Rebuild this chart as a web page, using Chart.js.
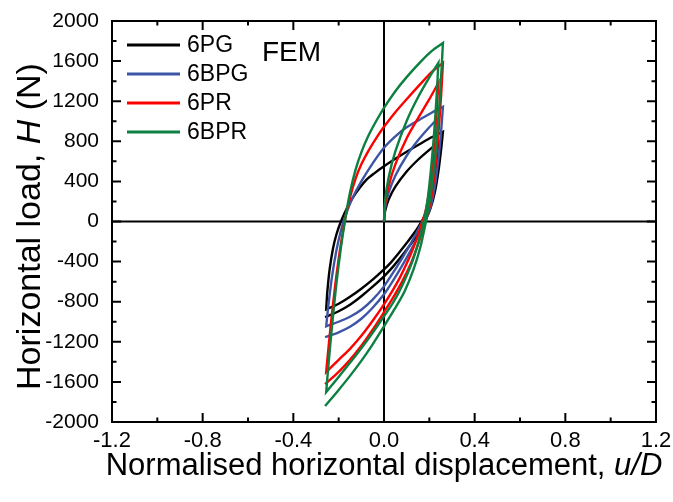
<!DOCTYPE html>
<html><head><meta charset="utf-8">
<script src="https://cdn.jsdelivr.net/npm/chart.js@4/dist/chart.umd.min.js"></script>
<style>html,body{margin:0;padding:0;background:#fff;}#wrap{width:673px;height:502px;}</style>
</head><body><div id="wrap"><canvas id="c" width="673" height="502"></canvas></div>
<script>
// ---- data ----
const seriesNames = ['6PG', '6BPG', '6PR', '6BPR'];
const xTickStep = 0.4;   // labelled x ticks: -1.2 ... 1.2
const yTickStep = 400;   // labelled y ticks: -2000 ... 2000

// each series: virgin loading, unloading 1, reloading, unloading 2 (u/D, H in N)
const u_6PG = [0,0.005,0.02,0.05,0.1,0.15,0.2,0.24,
  0.24,0.232,0.22,0.205,0.185,0.155,0.13,0.1,0.06,0.03,0,-0.05,-0.1,-0.15,-0.2,-0.255,
  -0.255,-0.25,-0.24,-0.225,-0.21,-0.19,-0.16,-0.125,-0.08,-0.04,0,0.05,0.1,0.16,0.21,0.26,
  0.26,0.252,0.24,0.225,0.205,0.18,0.15,0.12,0.08,0.04,0,-0.05,-0.1,-0.15,-0.2,-0.26];
const h_6PG = [0,105,216,347,498,616,715,786,
  786,610,420,230,80,-40,-125,-215,-330,-410,-478,-580,-670,-750,-820,-876,
  -876,-700,-480,-270,-130,0,150,280,410,485,550,625,695,775,840,895,
  895,720,500,300,130,0,-120,-220,-340,-450,-547,-650,-745,-830,-895,-955];

const u_6BPG = [0,0.005,0.02,0.05,0.1,0.15,0.2,0.24,
  0.24,0.232,0.22,0.205,0.185,0.16,0.13,0.1,0.06,0.03,0,-0.05,-0.1,-0.15,-0.2,-0.255,
  -0.255,-0.245,-0.23,-0.21,-0.19,-0.17,-0.14,-0.1,-0.05,0,0.05,0.1,0.16,0.21,0.26,
  0.26,0.252,0.24,0.225,0.205,0.18,0.15,0.12,0.08,0.04,0,-0.05,-0.1,-0.15,-0.2,-0.26];
const h_6BPG = [0,138,285,457,656,810,940,1035,
  1035,800,540,290,90,-40,-170,-290,-440,-545,-647,-780,-880,-950,-1000,-1045,
  -1045,-830,-560,-290,-90,60,230,400,580,736,850,940,1020,1085,1144,
  1144,900,620,360,140,-10,-150,-280,-440,-590,-726,-860,-970,-1050,-1105,-1154];

const u_6PR = [0,0.005,0.02,0.05,0.1,0.15,0.2,0.24,
  0.24,0.232,0.22,0.205,0.185,0.165,0.14,0.11,0.07,0.035,0,-0.05,-0.1,-0.15,-0.2,-0.255,
  -0.255,-0.245,-0.23,-0.21,-0.19,-0.17,-0.15,-0.125,-0.1,-0.07,-0.035,0,0.05,0.1,0.16,0.21,0.26,
  0.26,0.252,0.24,0.225,0.205,0.18,0.15,0.12,0.08,0.04,0,-0.05,-0.1,-0.15,-0.2,-0.26];
const h_6PR = [0,170,350,570,830,1030,1220,1383,
  1383,1080,730,390,120,-30,-200,-370,-560,-700,-826,-990,-1140,-1270,-1380,-1502,
  -1502,-1260,-930,-540,-220,40,240,430,570,700,830,945,1090,1220,1370,1490,1582,
  1582,1260,880,520,190,-20,-230,-410,-600,-760,-905,-1080,-1240,-1380,-1500,-1622];

const u_6BPR = [0,0.005,0.02,0.05,0.1,0.15,0.2,0.24,
  0.24,0.232,0.22,0.205,0.19,0.175,0.15,0.12,0.08,0.04,0,-0.05,-0.1,-0.15,-0.2,-0.255,
  -0.255,-0.245,-0.23,-0.21,-0.19,-0.17,-0.15,-0.125,-0.1,-0.07,-0.035,0,0.05,0.1,0.16,0.21,0.26,
  0.26,0.252,0.24,0.225,0.205,0.185,0.16,0.13,0.09,0.045,0,-0.05,-0.1,-0.15,-0.2,-0.26];
const h_6BPR = [0,211,435,699,1003,1239,1438,1582,
  1582,1250,850,470,180,0,-220,-430,-640,-810,-945,-1110,-1265,-1410,-1550,-1701,
  -1701,-1430,-1060,-620,-260,40,290,520,690,850,1000,1134,1300,1440,1590,1700,1781,
  1781,1440,1020,620,250,0,-260,-480,-700,-880,-1045,-1225,-1390,-1540,-1680,-1841];

// ---- styling ----
const colors = ['#000000', '#3d55a5', '#ff0000', '#0b8040'];
const FONT = '"Liberation Sans", Arial, sans-serif';

const us = [u_6PG, u_6BPG, u_6PR, u_6BPR];
const hs = [h_6PG, h_6BPG, h_6PR, h_6BPR];

const datasets = seriesNames.map((name, i) => ({
  label: name,
  data: us[i].map((u, k) => ({x: u, y: hs[i][k]})),
  borderColor: colors[i],
  backgroundColor: colors[i],
  borderWidth: 2.4,
  pointRadius: 0,
  tension: 0.3,
  fill: false,
  order: seriesNames.length - i
}));

function midTicks(ticks) {
  const out = [];
  for (let i = 0; i < ticks.length - 1; i++) out.push((ticks[i].value + ticks[i+1].value) / 2);
  return out;
}

const framePlugin = {
  id: 'frame',
  beforeDatasetsDraw(chart) {
    const {ctx, chartArea: a, scales: {x, y}} = chart;
    ctx.save();
    ctx.strokeStyle = '#000';
    ctx.lineWidth = 2;
    ctx.beginPath();
    const x0 = x.getPixelForValue(0), y0 = y.getPixelForValue(0);
    ctx.moveTo(x0, a.top); ctx.lineTo(x0, a.bottom);
    ctx.moveTo(a.left, y0); ctx.lineTo(a.right, y0);
    ctx.stroke();
    ctx.restore();
  },
  afterDatasetsDraw(chart) {
    const {ctx, chartArea: a, scales: {x, y}} = chart;
    ctx.save();
    ctx.strokeStyle = '#000';
    ctx.lineWidth = 2;
    ctx.strokeRect(a.left, a.top, a.right - a.left, a.bottom - a.top);
    const major = 9, minor = 4.5;
    ctx.beginPath();
    x.ticks.forEach(t => {
      const p = x.getPixelForValue(t.value);
      ctx.moveTo(p, a.bottom); ctx.lineTo(p, a.bottom - major);
      ctx.moveTo(p, a.top); ctx.lineTo(p, a.top + major);
    });
    midTicks(x.ticks).forEach(v => {
      const p = x.getPixelForValue(v);
      ctx.moveTo(p, a.bottom); ctx.lineTo(p, a.bottom - minor);
      ctx.moveTo(p, a.top); ctx.lineTo(p, a.top + minor);
    });
    y.ticks.forEach(t => {
      const p = y.getPixelForValue(t.value);
      ctx.moveTo(a.left, p); ctx.lineTo(a.left + major, p);
      ctx.moveTo(a.right, p); ctx.lineTo(a.right - major, p);
    });
    midTicks(y.ticks).forEach(v => {
      const p = y.getPixelForValue(v);
      ctx.moveTo(a.left, p); ctx.lineTo(a.left + minor, p);
      ctx.moveTo(a.right, p); ctx.lineTo(a.right - minor, p);
    });
    ctx.stroke();

    // legend
    const lx = a.left + 15, ly = a.top + 24, step = 29;
    chart.data.datasets.forEach((ds, i) => {
      const yy = ly + i * step;
      ctx.strokeStyle = ds.borderColor;
      ctx.lineWidth = 3;
      ctx.beginPath(); ctx.moveTo(lx, yy); ctx.lineTo(lx + 53, yy); ctx.stroke();
      ctx.fillStyle = '#000';
      ctx.font = '23px ' + FONT;
      ctx.textBaseline = 'middle';
      ctx.textAlign = 'left';
      ctx.fillText(ds.label, lx + 60, yy + 1);
    });
    ctx.font = '28px ' + FONT;
    ctx.fillText('FEM', a.left + 150, a.top + 32);
    ctx.restore();
  },
  afterDraw(chart) {
    const {ctx, chartArea: a} = chart;
    ctx.save();
    ctx.fillStyle = '#000';
    ctx.textBaseline = 'alphabetic';
    ctx.textAlign = 'left';
    function drawParts(parts, size, cx, by) {
      let total = 0;
      parts.forEach(p => { ctx.font = (p[1] ? 'italic ' : '') + size + 'px ' + FONT; total += ctx.measureText(p[0]).width; });
      let xx = cx - total / 2;
      parts.forEach(p => { ctx.font = (p[1] ? 'italic ' : '') + size + 'px ' + FONT; ctx.fillText(p[0], xx, by); xx += ctx.measureText(p[0]).width; });
    }
    drawParts([['Normalised horizontal displacement, ', false], ['u/D', true]], 31, (a.left + a.right) / 2, 475);
    ctx.translate(40, (a.top + a.bottom) / 2 + 5);
    ctx.rotate(-Math.PI / 2);
    drawParts([['Horizontal load, ', false], ['H', true], [' (N)', false]], 34, 0, 0);
    ctx.restore();
  }
};

new Chart(document.getElementById('c'), {
  type: 'line',
  data: {datasets},
  options: {
    responsive: false,
    devicePixelRatio: 1,
    animation: false,
    layout: {padding: {top: 21, right: 17, left: 0, bottom: 0}},
    plugins: {legend: {display: false}, tooltip: {enabled: false}},
    scales: {
      x: {
        type: 'linear', min: -1.2, max: 1.2,
        afterFit: s => { s.height = 80; },
        grid: {display: false, drawTicks: false},
        border: {display: false},
        ticks: {stepSize: xTickStep, padding: 0, color: '#000', maxRotation: 0, autoSkip: false,
          font: {family: FONT, size: 22, lineHeight: 1.75},
          callback: v => (Math.abs(v) < 1e-9 ? 0 : v).toFixed(1)}
      },
      y: {
        type: 'linear', min: -2000, max: 2000,
        afterFit: s => { s.width = 112; },
        grid: {display: false, drawTicks: false},
        border: {display: false},
        ticks: {stepSize: yTickStep, padding: 13, color: '#000', autoSkip: false,
          font: {family: FONT, size: 21, lineHeight: 0.6},
          callback: v => String(Math.round(v))}
      }
    }
  },
  plugins: [framePlugin]
});
</script>
</body></html>
